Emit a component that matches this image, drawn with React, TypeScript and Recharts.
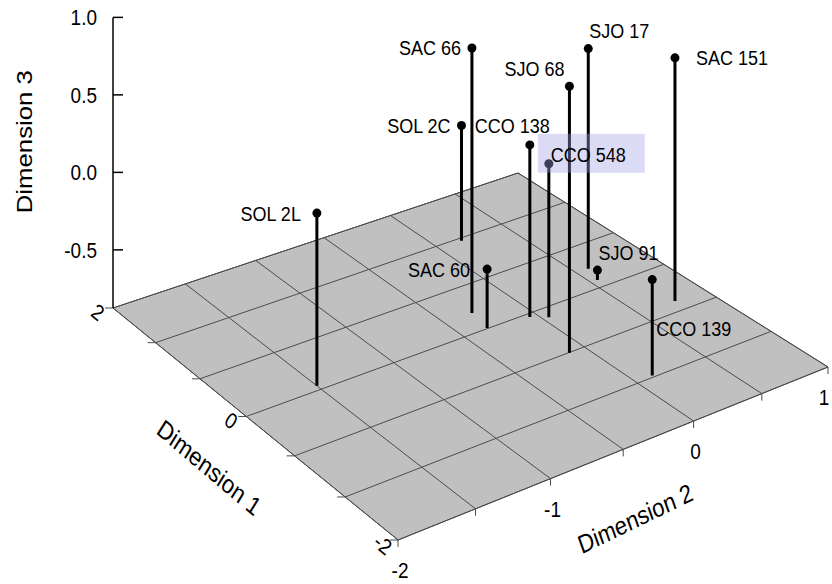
import { ScatterChart, Scatter, XAxis, YAxis } from 'recharts';

const W = 832;
const H = 584;

// ordination scores per site
const sites = ['SOL 2L', 'SOL 2C', 'SAC 66', 'CCO 138', 'CCO 548', 'SJO 68', 'SJO 17', 'SAC 151', 'SAC 60', 'SJO 91', 'CCO 139'];
const dim1 = [0.06, 1.29, 0.27, -0.05, -0.14, -0.67, 0.3, -0.52, 0.01, 0.11, -1.31];
const dim2 = [-1.5, 0.17, -0.3, -0.05, 0.04, -0.11, 0.59, 0.77, -0.33, 0.55, 0.12];
const dim3 = [0.19, -0.1, 0.83, 0.23, 0.11, 0.8, 0.58, 0.7, -0.5, -0.81, -0.28];

// axis ranges, labelled ticks and floor grid positions
const dim1Range = [-2, 2];
const dim2Range = [-2, 1];
const dim3Range = [-0.875, 1];
const dim1Ticks = [2, 0, -2];
const dim2Ticks = [-2, -1, 0, 1];
const dim3Ticks = [-0.5, 0, 0.5, 1];
const dim1Grid = [2, 4 / 3, 2 / 3, 0, -2 / 3, -4 / 3, -2];
const dim2Grid = [-2, -1.5, -1, -0.5, 0, 0.5, 1];

const highlighted = 'CCO 548';

// camera: where the four floor corners land, and px per unit of dim 3 at the back corner
const VIEW = {
  back: [113, 308], // dim1 max, dim2 min
  front: [398, 540], // dim1 min, dim2 min
  right: [828, 367], // dim1 min, dim2 max
  far: [518, 173], // dim1 max, dim2 max
  zPx: 155,
};

const FONT = '"Liberation Sans", Arial, sans-serif';
const STRETCH = 1.17;
const INK = '#000';
const GRID = '#4c4c4c';

// label placement around each dot: [dx, dy, anchor]
const LABEL_AT: Record<string, [number, number, string]> = {
  'SOL 2L': [-16, 0, 'end'],
  'SOL 2C': [-11, 0, 'end'],
  'SAC 66': [-11, 0, 'end'],
  'SJO 68': [-5, -18, 'end'],
  'SJO 17': [1, -18, 'start'],
  'SAC 151': [21, 0, 'start'],
  'CCO 138': [-55, -19, 'start'],
  'CCO 548': [2, -9, 'start'],
  'SAC 60': [-17, 0, 'end'],
  'SJO 91': [1, -18, 'start'],
  'CCO 139': [4, 49, 'start'],
};

// square -> quad homography for the floor
function makeHomography() {
  const [x0, y0] = VIEW.back;
  const [x1, y1] = VIEW.front;
  const [x2, y2] = VIEW.right;
  const [x3, y3] = VIEW.far;
  const dx1 = x1 - x2, dx2 = x3 - x2, dx3 = x0 - x1 + x2 - x3;
  const dy1 = y1 - y2, dy2 = y3 - y2, dy3 = y0 - y1 + y2 - y3;
  const den = dx1 * dy2 - dx2 * dy1;
  const g = (dx3 * dy2 - dx2 * dy3) / den;
  const h = (dx1 * dy3 - dx3 * dy1) / den;
  return {
    a: x1 - x0 + g * x1, b: x3 - x0 + h * x3, c: x0,
    d: y1 - y0 + g * y1, e: y3 - y0 + h * y3, f: y0,
    g, h,
  };
}
const HM = makeHomography();

function project(d1: number, d2: number, z: number = dim3Range[0]) {
  const s = (dim1Range[1] - d1) / (dim1Range[1] - dim1Range[0]);
  const t = (d2 - dim2Range[0]) / (dim2Range[1] - dim2Range[0]);
  const w = HM.g * s + HM.h * t + 1;
  return {
    x: (HM.a * s + HM.b * t + HM.c) / w,
    y: (HM.d * s + HM.e * t + HM.f - VIEW.zPx * (z - dim3Range[0])) / w,
  };
}

const [d1Min, d1Max] = dim1Range;
const [d2Min, d2Max] = dim2Range;

const floorData = [project(d1Max, d2Min), project(d1Min, d2Min), project(d1Min, d2Max), project(d1Max, d2Max)];

const gridData = [
  ...dim1Grid.flatMap((v) => [project(v, d2Min), project(v, d2Max)]),
  ...dim2Grid.flatMap((v) => [project(d1Min, v), project(d1Max, v)]),
];

const points = sites.map((site, i) => ({ site, ...project(dim1[i], dim2[i], dim3[i]) }));
const stemData = sites.flatMap((_, i) => [project(dim1[i], dim2[i], dim3[i]), project(dim1[i], dim2[i])]);

const zAxisData = [project(d1Max, d2Min, dim3Range[0]), project(d1Max, d2Min, dim3Ticks[dim3Ticks.length - 1])];
const zTickData = dim3Ticks.map((v) => ({ label: v.toFixed(1), ...project(d1Max, d2Min, v) }));
const d1TickData = dim1Grid.map((v) => ({ label: dim1Ticks.includes(v) ? String(v) : '', ...project(v, d2Min) }));
const d2TickData = dim2Grid.map((v) => ({ label: dim2Ticks.includes(v) ? String(v) : '', ...project(d1Min, v) }));

const titleData = [
  { label: 'Dimension 1', dx: -37, dy: 51, rot: 36, ...project(0, d2Min) },
  { label: 'Dimension 2', dx: 12, dy: 69, rot: -22.5, ...project(d1Min, -0.5) },
  { label: 'Dimension 3', dx: -89, dy: -21, rot: -90, ...project(d1Max, d2Min, 0.0625) },
];

const highlightData = points.filter((p) => p.site === highlighted);

function Txt({ x, y, rot = 0, size, anchor = 'middle', children }: any) {
  return (
    <text
      transform={`translate(${x},${y}) scale(1,${STRETCH}) rotate(${rot})`}
      textAnchor={anchor}
      dominantBaseline="central"
      fontFamily={FONT}
      fontSize={size}
      fill={INK}
    >
      {children}
    </text>
  );
}

const segments = (stroke: string, width: number) => (p: any) => {
  const pts = p.points;
  let d = '';
  for (let i = 0; i + 1 < pts.length; i += 2) d += `M${pts[i].x},${pts[i].y}L${pts[i + 1].x},${pts[i + 1].y}`;
  return <path d={d} stroke={stroke} strokeWidth={width} fill="none" />;
};

const none = () => <g />;

export default function App() {
  return (
    <div style={{ position: 'absolute', left: 0, top: 0, background: '#fff' }}>
      <ScatterChart width={W} height={H} margin={{ top: 0, right: 0, bottom: 0, left: 0 }}>
        <XAxis type="number" dataKey="x" domain={[0, W]} hide allowDataOverflow />
        <YAxis type="number" dataKey="y" domain={[0, H]} reversed hide allowDataOverflow />

        {/* floor */}
        <Scatter
          data={floorData}
          isAnimationActive={false}
          shape={none}
          line={(p: any) => (
            <polygon points={p.points.map((q: any) => `${q.x},${q.y}`).join(' ')} fill="#c0c0c0" stroke={GRID} strokeWidth={1} />
          )}
        />
        <Scatter data={gridData} isAnimationActive={false} shape={none} line={segments(GRID, 1)} />

        {/* dimension 1 ticks */}
        <Scatter
          data={d1TickData}
          isAnimationActive={false}
          shape={(p: any) => (
            <g>
              <line x1={p.cx} y1={p.cy} x2={p.cx - 8} y2={p.cy} stroke={GRID} strokeWidth={1} />
              {p.payload.label && (
                <Txt x={p.cx - 15} y={p.cy + 4} rot={35} size={19}>
                  {p.payload.label}
                </Txt>
              )}
            </g>
          )}
        />
        {/* dimension 2 ticks */}
        <Scatter
          data={d2TickData}
          isAnimationActive={false}
          shape={(p: any) => (
            <g>
              <line x1={p.cx} y1={p.cy} x2={p.cx} y2={p.cy + 7} stroke={GRID} strokeWidth={1} />
              {p.payload.label && (
                <Txt x={Math.min(p.cx + 2, W - 8)} y={p.cy + 30} size={19}>
                  {p.payload.label}
                </Txt>
              )}
            </g>
          )}
        />
        {/* dimension 3 axis */}
        <Scatter data={zAxisData} isAnimationActive={false} shape={none} line={segments(INK, 1.5)} />
        <Scatter
          data={zTickData}
          isAnimationActive={false}
          shape={(p: any) => (
            <g>
              <line x1={p.cx} y1={p.cy} x2={p.cx + 10} y2={p.cy} stroke={INK} strokeWidth={1.5} />
              <Txt x={p.cx - 16} y={p.cy} size={19} anchor="end">
                {p.payload.label}
              </Txt>
            </g>
          )}
        />
        <Scatter
          data={titleData}
          isAnimationActive={false}
          shape={(p: any) => (
            <Txt x={p.cx + p.payload.dx} y={p.cy + p.payload.dy} rot={p.payload.rot} size={22}>
              {p.payload.label}
            </Txt>
          )}
        />

        {/* drop lines and sites */}
        <Scatter data={stemData} isAnimationActive={false} shape={none} line={segments(INK, 3)} />
        <Scatter data={points} isAnimationActive={false} fill={INK} shape={(p: any) => <circle cx={p.cx} cy={p.cy} r={4.5} fill={INK} />} />
        <Scatter
          data={highlightData}
          isAnimationActive={false}
          shape={(p: any) => <rect x={p.cx - 11} y={p.cy - 30} width={107} height={39} fill="rgb(160,160,232)" fillOpacity={0.38} />}
        />
        <Scatter
          data={points}
          isAnimationActive={false}
          shape={(p: any) => {
            const [dx, dy, anchor] = LABEL_AT[p.payload.site];
            return (
              <Txt x={p.cx + dx} y={p.cy + dy} size={18} anchor={anchor}>
                {p.payload.site}
              </Txt>
            );
          }}
        />
      </ScatterChart>
    </div>
  );
}
